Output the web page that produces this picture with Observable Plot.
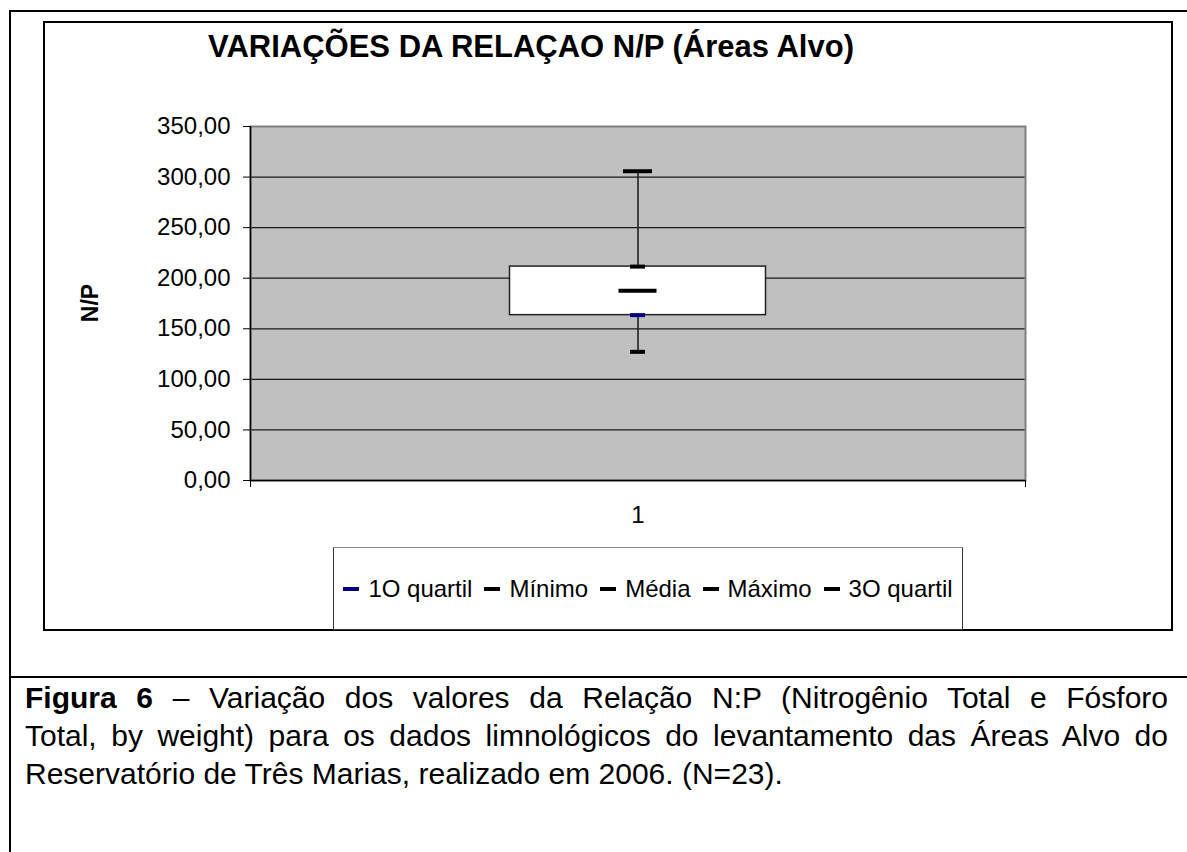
<!DOCTYPE html>
<html><head><meta charset="utf-8">
<script src="https://cdn.jsdelivr.net/npm/d3@7"></script>
<script src="https://cdn.jsdelivr.net/npm/@observablehq/plot@0.6"></script>
<style>
body{margin:0;background:#fff;font-family:Arial,"Liberation Sans",sans-serif;color:#000;}
#page{position:relative;width:1187px;height:852px;overflow:hidden;background:#fff;}
.abs{position:absolute;}
.line{position:absolute;background:#000;}
#title{left:0;width:1062px;top:31px;text-align:center;font-size:31px;font-weight:bold;line-height:1;white-space:nowrap;}
#ylabel{left:90px;top:302.5px;transform:translate(-50%,-50%) rotate(-90deg);font-size:23px;font-weight:bold;line-height:1;white-space:nowrap;}
#chartbox{left:43px;top:21px;width:1130px;height:610px;box-sizing:border-box;border:2px solid #000;}
#plot{left:44px;top:100px;}
#legend{left:333px;top:547px;width:630px;height:83px;box-sizing:border-box;border:1.5px solid #333;border-top-color:#888;display:flex;align-items:center;justify-content:center;gap:12px;font-size:24px;background:#fff;}
.item{display:flex;align-items:center;white-space:nowrap;}
.swatch{width:16px;height:4px;margin-right:9px;}
#caption{left:25px;top:679px;width:1143px;font-size:30px;}
#caption div{height:38px;line-height:38px;white-space:nowrap;text-align:justify;text-align-last:justify;}
#caption div.last{text-align-last:left;}
</style></head><body>
<div id="page">
  <div class="line" style="left:9px;top:10px;width:1178px;height:2px"></div>
  <div class="line" style="left:9px;top:10px;width:2px;height:842px"></div>
  <div class="line" style="left:9px;top:676px;width:1178px;height:2px"></div>
  <div id="chartbox" class="abs"></div>
  <div id="title" class="abs"></div>
  <div id="ylabel" class="abs"></div>
  <div id="plot" class="abs"></div>
  <div id="legend" class="abs"></div>
  <div id="caption" class="abs"></div>
</div>
<script>
// ---- data ----
const categories = ["1"];
const seriesNames = ["1O quartil", "Mínimo", "Média", "Máximo", "3O quartil"];
const seriesValues = [163.5, 127.2, 187.6, 305.8, 211.5];
const yTicks = [0, 50, 100, 150, 200, 250, 300, 350];
const titleText = "VARIAÇÕES DA RELAÇAO N/P (Áreas Alvo)";
const yLabelText = "N/P";
const captionBold = "Figura 6";
const captionLines = [
  " – Variação dos valores da Relação N:P (Nitrogênio Total e Fósforo",
  "Total, by weight) para os dados limnológicos do levantamento das Áreas Alvo do",
  "Reservatório de Três Marias, realizado em 2006. (N=23)."
];

// ---- styles ----
const seriesColors = {"1O quartil": "#000080", "Mínimo": "#000", "Média": "#000", "Máximo": "#000", "3O quartil": "#000"};
const markerPx = {"1O quartil": 15, "Mínimo": 15, "Média": 38, "Máximo": 29, "3O quartil": 15};
const plotW = 1128, plotH = 430, mL = 206, mR = 147, mT = 26, mB = 50;
const innerW = plotW - mL - mR;
const boxPx = 256;
const pxToX = px => px / innerW;

const points = seriesNames.map((s, i) => ({series: s, value: seriesValues[i], cat: 1}));
const get = name => seriesValues[seriesNames.indexOf(name)];
const stats = categories.map((c, i) => ({
  cat: i + 1,
  q1: get("1O quartil"), q3: get("3O quartil"),
  min: get("Mínimo"), max: get("Máximo")
}));

const chart = Plot.plot({
  width: plotW, height: plotH,
  marginLeft: mL, marginRight: mR, marginTop: mT, marginBottom: mB,
  x: {domain: [0.5, categories.length + 0.5]},
  y: {domain: [yTicks[0], yTicks[yTicks.length - 1]]},
  style: {fontFamily: "Arial, 'Liberation Sans', sans-serif", fontSize: "24px", color: "#000", background: "transparent", overflow: "visible"},
  marks: [
    Plot.frame({fill: "#c0c0c0"}),
    Plot.ruleY(yTicks.slice(1, -1), {stroke: "#1a1a1a", strokeWidth: 1.3}),
    Plot.frame({stroke: "#7f7f7f", strokeWidth: 2}),
    Plot.ruleX([0.5], {stroke: "#000", strokeWidth: 1.5}),
    Plot.ruleY([yTicks[0]], {stroke: "#000", strokeWidth: 1.5}),
    Plot.axisY({ticks: yTicks, tickSize: 7, tickPadding: 13, fontSize: 24, label: null,
      tickFormat: d => d.toFixed(2).replace(".", ",")}),
    Plot.axisX({ticks: [0.5, categories.length + 0.5], tickSize: 7, tickFormat: () => "", label: null}),
    Plot.axisX({ticks: categories.map((c, i) => i + 1), tickSize: 0, tickPadding: 25, fontSize: 24, label: null,
      tickFormat: d => categories[d - 1]}),
    Plot.ruleX(stats, {x: "cat", y1: "min", y2: "max", stroke: "#222", strokeWidth: 1.6}),
    Plot.rect(stats, {x1: d => d.cat - pxToX(boxPx / 2), x2: d => d.cat + pxToX(boxPx / 2), y1: "q1", y2: "q3",
      fill: "#fff", stroke: "#222", strokeWidth: 1.5}),
    Plot.ruleY(points, {y: "value",
      x1: d => d.cat - pxToX(markerPx[d.series] / 2), x2: d => d.cat + pxToX(markerPx[d.series] / 2),
      stroke: d => seriesColors[d.series], strokeWidth: 4, strokeLinecap: "butt"})
  ]
});
document.getElementById("plot").appendChild(chart);

document.getElementById("title").textContent = titleText;
document.getElementById("ylabel").textContent = yLabelText;

const legend = document.getElementById("legend");
seriesNames.forEach(s => {
  const it = document.createElement("div"); it.className = "item";
  const sw = document.createElement("span"); sw.className = "swatch"; sw.style.background = seriesColors[s];
  const tx = document.createElement("span"); tx.textContent = s;
  it.appendChild(sw); it.appendChild(tx); legend.appendChild(it);
});

const cap = document.getElementById("caption");
captionLines.forEach((t, i) => {
  const d = document.createElement("div");
  if (i === 0) { const b = document.createElement("b"); b.textContent = captionBold; d.appendChild(b); }
  d.appendChild(document.createTextNode(t));
  if (i === captionLines.length - 1) d.className = "last";
  cap.appendChild(d);
});
</script>
</body></html>
